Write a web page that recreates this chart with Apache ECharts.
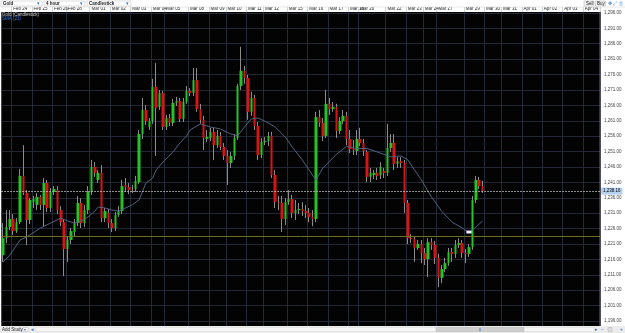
<!DOCTYPE html>
<html><head><meta charset="utf-8">
<script src="https://cdn.jsdelivr.net/npm/echarts@6/dist/echarts.min.js"></script>
<style>html,body{margin:0;padding:0;background:#fff;}#c{width:625px;height:333px;}</style>
</head><body><div id="c"></div>
<script>
// ---- data ----
const dayLabels = ['Feb 24','Feb 25','Feb 26','Feb 28','Mar 01','Mar 02','Mar 03','Mar 04','Mar 05','Mar 08','Mar 09','Mar 10','Mar 11','Mar 12','Mar 15','Mar 16','Mar 17','Mar 18','Mar 20','Mar 22','Mar 23','Mar 24','Mar 27','Mar 29','Mar 30','Mar 31','Apr 01','Apr 02','Apr 03','Apr 04'];
const dayStart = [3,9,15,19,26,32,38,44,48,55,61,66,72,77,84,90,96,102,105,113,119,124,128,136,142,147,153,159,165,171];
const slotCount = 176;

const opens = [1217.4,1222.9,1226.5,1229.1,1225.2,1228.1,1243.1,1237.6,1228.8,1234.6,
1233.7,1236.3,1233.7,1240.8,1232.7,1237.9,1238.5,1232.0,1228.1,1219.4,
1222.3,1224.9,1227.8,1234.3,1227.8,1232.0,1237.9,1246.0,1241.8,1244.1,
1229.4,1231.1,1227.8,1226.2,1230.4,1231.7,1240.2,1239.5,1238.9,1238.8,
1241.1,1256.7,1264.5,1259.0,1260.9,1272.0,1265.5,1270.0,1259.0,1261.9,
1260.3,1266.8,1267.4,1261.6,1267.1,1270.7,1270.0,1274.2,1264.8,1261.3,
1255.1,1255.4,1257.4,1253.1,1256.1,1252.5,1249.6,1247.3,1249.6,1255.4,
1272.3,1277.2,1274.9,1263.9,1268.4,1259.3,1249.9,1254.1,1254.4,1256.1,
1243.4,1234.6,1234.4,1229.1,1234.6,1235.6,1231.1,1232.0,1232.4,1231.7,
1231.1,1229.8,1229.1,1262.2,1260.3,1256.1,1266.5,1264.8,1265.5,1257.7,
1260.9,1262.6,1255.1,1252.2,1251.2,1255.1,1253.8,1250.9,1242.8,1243.4,
1244.1,1243.4,1244.7,1244.1,1252.2,1253.8,1247.0,1247.9,1247.3,1234.3,
1222.9,1222.6,1219.7,1221.0,1218.1,1216.1,1221.6,1220.7,1216.5,1210.0,
1212.9,1214.8,1218.4,1217.8,1220.7,1221.3,1218.1,1217.8,1220.0,1235.3,
1241.8,1239.8];
const closes = [1222.9,1226.5,1229.1,1225.2,1228.1,1243.1,1237.6,1228.8,1235.3,1235.6,
1236.3,1233.7,1240.8,1232.7,1237.9,1238.9,1232.0,1228.1,1219.4,1222.3,
1225.2,1227.8,1234.3,1227.8,1232.0,1237.9,1246.0,1244.1,1244.1,1229.4,
1231.7,1227.8,1226.2,1230.4,1231.7,1239.8,1239.5,1238.5,1238.8,1241.5,
1256.7,1264.5,1260.9,1260.9,1272.0,1265.2,1270.0,1259.0,1261.9,1260.3,
1266.8,1267.4,1261.6,1267.1,1270.7,1270.0,1274.2,1264.8,1261.3,1255.4,
1255.7,1257.4,1253.1,1256.1,1252.5,1249.6,1247.3,1249.6,1255.4,1272.3,
1277.2,1274.9,1263.9,1268.4,1259.3,1249.9,1254.1,1254.4,1256.1,1243.4,
1234.6,1234.4,1229.1,1234.6,1235.6,1231.1,1232.0,1232.4,1231.7,1231.1,
1229.8,1229.1,1262.2,1260.3,1256.1,1266.5,1264.8,1265.5,1257.7,1260.9,
1262.6,1255.1,1251.8,1251.5,1255.1,1253.8,1251.2,1242.8,1244.1,1244.1,
1243.1,1246.0,1244.1,1252.2,1253.8,1247.0,1247.9,1247.3,1234.3,1222.9,
1222.6,1219.7,1221.0,1218.1,1216.1,1221.6,1220.7,1216.5,1210.0,1212.9,
1214.8,1218.4,1217.8,1220.7,1221.3,1218.1,1217.8,1220.0,1235.3,1241.8,
1239.8,1238.2];
const lows = [1215.2,1221.3,1225.5,1223.9,1224.6,1227.5,1236.9,1220.7,1227.5,1232.7,
1232.0,1232.0,1226.5,1231.4,1231.4,1236.9,1230.7,1226.8,1210.6,1215.2,
1221.0,1223.6,1226.8,1226.2,1226.5,1230.7,1236.9,1242.8,1240.8,1228.1,
1228.1,1226.2,1224.9,1225.2,1229.8,1230.7,1237.9,1237.2,1237.6,1237.9,
1240.5,1255.1,1259.6,1258.0,1260.0,1249.6,1264.5,1258.0,1258.0,1259.3,
1259.3,1265.8,1260.6,1260.6,1266.5,1269.0,1269.0,1263.9,1260.0,1251.5,
1254.1,1254.4,1248.3,1252.2,1251.5,1248.3,1240.2,1245.7,1248.3,1254.8,
1271.0,1273.0,1261.3,1262.6,1258.0,1248.3,1248.9,1253.1,1252.8,1242.4,
1232.7,1232.0,1224.9,1227.2,1233.7,1229.4,1228.8,1230.7,1230.1,1229.4,
1228.1,1226.8,1228.1,1259.0,1254.4,1255.4,1262.9,1263.9,1255.4,1256.7,
1260.0,1253.1,1250.5,1249.9,1249.9,1252.8,1249.6,1241.1,1241.1,1242.1,
1241.8,1242.1,1242.4,1243.1,1250.9,1245.0,1245.7,1245.7,1231.1,1221.0,
1221.3,1215.2,1219.1,1214.8,1214.2,1210.3,1219.1,1214.5,1207.0,1208.3,
1211.9,1213.9,1215.2,1216.5,1219.7,1216.5,1214.8,1216.8,1219.1,1234.3,
1238.9,1237.6];
const highs = [1227.8,1232.0,1232.0,1230.7,1229.4,1245.4,1253.1,1238.5,1235.9,1236.6,
1237.6,1236.9,1242.4,1241.8,1239.2,1239.8,1239.8,1233.3,1229.1,1223.6,
1226.2,1229.1,1236.6,1235.9,1233.7,1239.8,1248.3,1247.6,1245.0,1246.6,
1232.7,1232.4,1229.1,1231.4,1233.3,1241.8,1242.4,1240.8,1240.2,1243.1,
1258.0,1268.4,1266.1,1261.9,1274.6,1279.8,1271.0,1270.7,1262.9,1263.2,
1268.1,1268.7,1268.4,1268.4,1272.3,1271.6,1278.1,1278.1,1266.5,1262.6,
1258.0,1258.7,1258.7,1258.0,1257.4,1253.8,1251.5,1250.9,1256.7,1273.0,
1285.0,1278.8,1275.9,1270.4,1269.4,1260.6,1255.4,1255.7,1257.4,1257.4,
1245.0,1236.6,1236.6,1235.9,1238.5,1236.9,1235.3,1234.3,1234.6,1233.7,
1232.7,1232.0,1263.9,1264.5,1261.9,1271.0,1268.4,1267.1,1266.5,1262.2,
1264.5,1263.9,1258.0,1254.8,1258.0,1258.7,1255.1,1251.5,1245.7,1245.0,
1245.7,1247.6,1245.7,1260.0,1256.7,1256.7,1249.2,1249.2,1248.3,1235.3,
1224.2,1223.6,1222.3,1222.3,1219.7,1222.9,1222.9,1222.0,1217.8,1214.2,
1216.5,1219.7,1219.7,1222.3,1222.9,1222.3,1219.4,1221.0,1236.6,1243.1,
1242.8,1241.5];

const smaIndex = [0,2,5,7,11,14,17,19,21,23,25,27,28,30,32,34,36,38,40,42,44,45,47,50,52,54,55,58,61,64,67,69,71,73,75,78,80,83,85,88,90,92,94,98,101,104,107,110,114,117,119,121,123,126,129,132,135,137,139,141];
const smaValue = [1215.2,1217.4,1222.3,1223.3,1226.2,1227.8,1229.4,1228.5,1227.8,1228.5,1229.8,1231.7,1233.0,1232.7,1232.0,1231.7,1232.7,1233.7,1235.3,1240.8,1242.4,1245.0,1247.6,1250.9,1253.8,1256.1,1258.0,1260.0,1259.0,1258.3,1256.7,1256.1,1259.0,1261.6,1261.9,1260.3,1259.0,1255.7,1252.5,1248.3,1245.0,1241.8,1245.6,1250.1,1252.7,1252.0,1252.0,1250.9,1249.3,1249.6,1248.3,1245.0,1241.8,1236.2,1231.6,1228.1,1226.2,1224.6,1226.5,1228.5];

const yTicks = [1196,1201,1206,1211,1216,1221,1226,1231,1236,1241,1246,1251,1256,1261,1266,1271,1276,1281,1286,1291,1296];
const lastPrice = 1238.16;
const levelLine = 1223.5;
const markerIndex = 137;
const markerPrice = 1224.9;

// ---- build ----
const fmt = v => v.toLocaleString('en-US', {minimumFractionDigits: 2, maximumFractionDigits: 2});
const categories = [];
for (let i = 0; i < slotCount; i++) categories.push('');
dayStart.forEach((s, k) => { categories[s] = dayLabels[k]; });
const isDay = i => dayStart.indexOf(i) >= 0;

const wickData = opens.map((o, i) => [o, closes[i], lows[i], highs[i]]);
const bodyData = opens.map((o, i) => [o, closes[i], Math.min(o, closes[i]), Math.max(o, closes[i])]);
const smaData = smaIndex.map((ix, k) => [ix, smaValue[k]]);

const FONT = 'Liberation Sans';
const chart = echarts.init(document.getElementById('c'), null, {renderer: 'canvas'});

const gText = (x, y, t, o) => Object.assign({type: 'text', x: x, y: y, z: 100,
  style: Object.assign({text: t, fontSize: 4.5, fontFamily: FONT, fill: '#333', verticalAlign: 'middle'}, o || {})});
const gRect = (x, y, w, h, fill, stroke, z) => ({type: 'rect', z: z == null ? 50 : z,
  shape: {x: x, y: y, width: w, height: h}, style: {fill: fill, stroke: stroke || null, lineWidth: 0.5}});

chart.setOption({
  animation: false,
  backgroundColor: '#ffffff',
  grid: {left: 0, right: 25, top: 12, bottom: 7, show: true, backgroundColor: '#030303', borderWidth: 0},
  xAxis: {
    type: 'category', data: categories, position: 'top', boundaryGap: true,
    axisLine: {show: false},
    axisTick: {show: true, inside: false, length: 5, interval: isDay, lineStyle: {color: '#b8b8b8', width: 0.6}},
    axisLabel: {show: true, interval: 0, align: 'left', margin: 1, fontSize: 4.5, fontFamily: FONT, color: '#222'},
    splitLine: {show: true, interval: isDay, lineStyle: {color: '#242937', width: 1}}
  },
  yAxis: {
    type: 'value', position: 'right', min: 1194.4, max: 1296.3, scale: true,
    axisLine: {show: false},
    axisTick: {show: false, customValues: yTicks},
    axisLabel: {show: true, customValues: yTicks, formatter: v => fmt(v), fontSize: 4.5, fontFamily: FONT, color: '#444', margin: 4, align: 'left'},
    splitLine: {show: true, lineStyle: {color: '#222735', width: 1}}
  },
  series: [
    {
      type: 'candlestick', name: 'wick', data: wickData, barWidth: 1, silent: true,
      itemStyle: {color: '#8c8c8c', color0: '#8c8c8c', borderColor: '#8c8c8c', borderColor0: '#8c8c8c', borderWidth: 1}
    },
    {
      type: 'candlestick', name: 'Gold', data: bodyData, barWidth: 3, silent: true,
      itemStyle: {color: '#27c227', color0: '#d51515', borderColor: '#27c227', borderColor0: '#d51515', borderWidth: 0},
      markLine: {
        symbol: 'none', silent: true, animation: false,
        data: [
          {yAxis: levelLine, lineStyle: {color: '#6f6f24', width: 1, type: 'solid'}, label: {show: false}},
          {yAxis: lastPrice, lineStyle: {color: '#bdbdbd', width: 1, type: [1.5, 1.5]},
           label: {show: true, position: 'end', distance: 1, formatter: fmt(lastPrice), backgroundColor: '#b7d2f0',
                   color: '#000', fontSize: 4.5, fontFamily: FONT, padding: [1, 2]}}
        ]
      },
      markPoint: {
        silent: true, animation: false,
        data: [{coord: [markerIndex, markerPrice], symbol: 'rect', symbolSize: [5, 2.5],
                itemStyle: {color: '#ffffff', borderColor: '#a49ee0', borderWidth: 0.6}, label: {show: false}}]
      }
    },
    {
      type: 'line', name: 'SMA (21)', data: smaData, connectNulls: true, showSymbol: false, silent: true,
      lineStyle: {color: '#50627f', width: 1}, z: 3
    }
  ],
  graphic: [
    // top toolbar
    gRect(0, 0, 625, 7, '#ffffff', null, 40),
    {type: 'line', z: 60, shape: {x1: 0, y1: 7, x2: 625, y2: 7}, style: {stroke: '#cfcfcf', lineWidth: 0.5}},
    gRect(1, 1, 41, 5, '#ffffff', '#b8b8b8'),
    gText(3, 3.6, 'Gold', {fontWeight: 'bold', fill: '#222'}),
    gText(37, 3.6, '▾', {fill: '#2d6fd0', fontSize: 5}),
    gRect(44, 1, 41, 5, '#ffffff', '#b8b8b8'),
    gText(46, 3.6, '4 hour', {fontWeight: 'bold', fill: '#222'}),
    gText(80, 3.6, '▾', {fill: '#2d6fd0', fontSize: 5}),
    gRect(87, 1, 44, 5, '#ffffff', '#b8b8b8'),
    gText(89, 3.6, 'Candlestick', {fontWeight: 'bold', fill: '#222'}),
    gText(126, 3.6, '▾', {fill: '#2d6fd0', fontSize: 5}),
    gRect(584, 1, 10, 5, '#f2f2f2', '#b0b0b0'),
    gText(586, 3.6, 'Sell', {fill: '#222'}),
    gRect(595.5, 1, 10, 5, '#f2f2f2', '#b0b0b0'),
    gText(597, 3.6, 'Buy', {fill: '#222'}),
    gText(608, 3.6, '✥', {fill: '#2d6fd0', fontSize: 5, fontFamily: 'DejaVu Sans'}),
    gText(613, 3.6, '⤢', {fill: '#2d6fd0', fontSize: 5, fontFamily: 'DejaVu Sans'}),
    gText(619, 3.6, '⎙', {fill: '#2d6fd0', fontSize: 5, fontFamily: 'DejaVu Sans'}),
    // right panel separator
    {type: 'line', z: 60, shape: {x1: 600, y1: 7, x2: 600, y2: 326}, style: {stroke: '#c8c8c8', lineWidth: 0.5}},
    // legend inside plot
    gText(2, 14.5, 'Gold (Candlestick)', {fill: '#c8c8c8'}),
    gText(2, 19, 'SMA (21)', {fill: '#3f78e0'}),
    // bottom bar
    gRect(0, 326, 625, 7, '#ececec', null, 40),
    gText(2, 329.8, 'Add Study', {fill: '#222'}),
    gRect(23, 327.5, 5, 4, '#ffffff', '#b0b0b0'),
    gText(24, 329.8, '▾', {fill: '#2d6fd0', fontSize: 4}),
    gText(31, 329.8, '◂', {fill: '#2d6fd0', fontSize: 5, fontFamily: 'DejaVu Sans'}),
    gRect(36, 327.5, 558, 4, '#f6f6f6', '#d8d8d8'),
    gRect(436, 327.5, 88, 4, '#cfcfcf', '#b5b5b5'),
    gRect(479, 328, 2, 3, '#8aa6cc', null, 55),
    gText(595, 329.8, '▸', {fill: '#2d6fd0', fontSize: 5, fontFamily: 'DejaVu Sans'}),
    gText(601, 329.8, '−', {fill: '#2d6fd0', fontSize: 5}),
    gRect(608, 327.5, 4, 4, '#dedede', '#b0b0b0'),
    gText(620, 329.8, '+', {fill: '#2d6fd0', fontSize: 5})
  ]
});
</script>
</body></html>
